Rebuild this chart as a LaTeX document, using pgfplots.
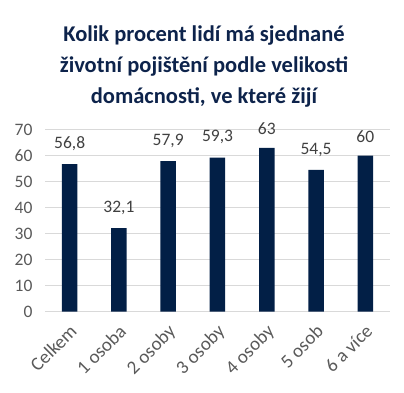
\documentclass[border=0pt]{standalone}
\usepackage{fontspec}
\setmainfont{Carlito}
\usepackage{pgfplots}
\pgfplotsset{compat=1.18}
\definecolor{barc}{RGB}{2,31,70}
\definecolor{titc}{RGB}{13,35,75}
\definecolor{tickc}{RGB}{89,89,89}
\definecolor{labc}{RGB}{64,64,64}
\definecolor{gridc}{RGB}{217,217,217}
\begin{document}
\begin{tikzpicture}[x=1pt,y=1pt]
\useasboundingbox (0,0) rectangle (404,393);
\node[align=center,text=titc,font=\fontsize{22.5}{31}\selectfont\bfseries,anchor=center] at (204,326) {Kolik procent lidí má sjednané\\životní pojištění podle velikosti\\domácnosti, ve které žijí};
\begin{axis}[
  at={(45pt,81.3pt)}, anchor=south west,
  scale only axis, width=345pt, height=182pt,
  xmin=-0.5, xmax=6.5, ymin=0, ymax=70,
  ytick={0,10,...,70},
  xtick=data,
  xticklabels={Celkem,1 osoba,2 osoby,3 osoby,4 osoby,5 osob,6 a více},
  ymajorgrids, grid style={gridc, line width=1.2pt},
  axis line style={draw=none},
  major tick length=0pt,
  tick label style={font=\fontsize{17.5}{19}\selectfont, text=tickc},
  x tick label style={xshift=-1pt, yshift=-10pt, rotate=45, anchor=north east, inner sep=1pt, font=\fontsize{19}{20}\selectfont},
  yticklabel style={xshift=-9pt},
  /pgf/number format/assume math mode=true,
  /pgf/number format/.cd, use comma, fixed, precision=1, /pgfplots/.cd,
  ybar, bar width=15.5pt,
  nodes near coords,
  nodes near coords style={font=\fontsize{17.5}{19}\selectfont, text=labc, anchor=south, yshift=10pt},
  clip=false,
]
\addplot[fill=barc, draw=none] coordinates {(0,56.8) (1,32.1) (2,57.9) (3,59.3) (4,63) (5,54.5) (6,60)};
\end{axis}
\end{tikzpicture}
\end{document}
